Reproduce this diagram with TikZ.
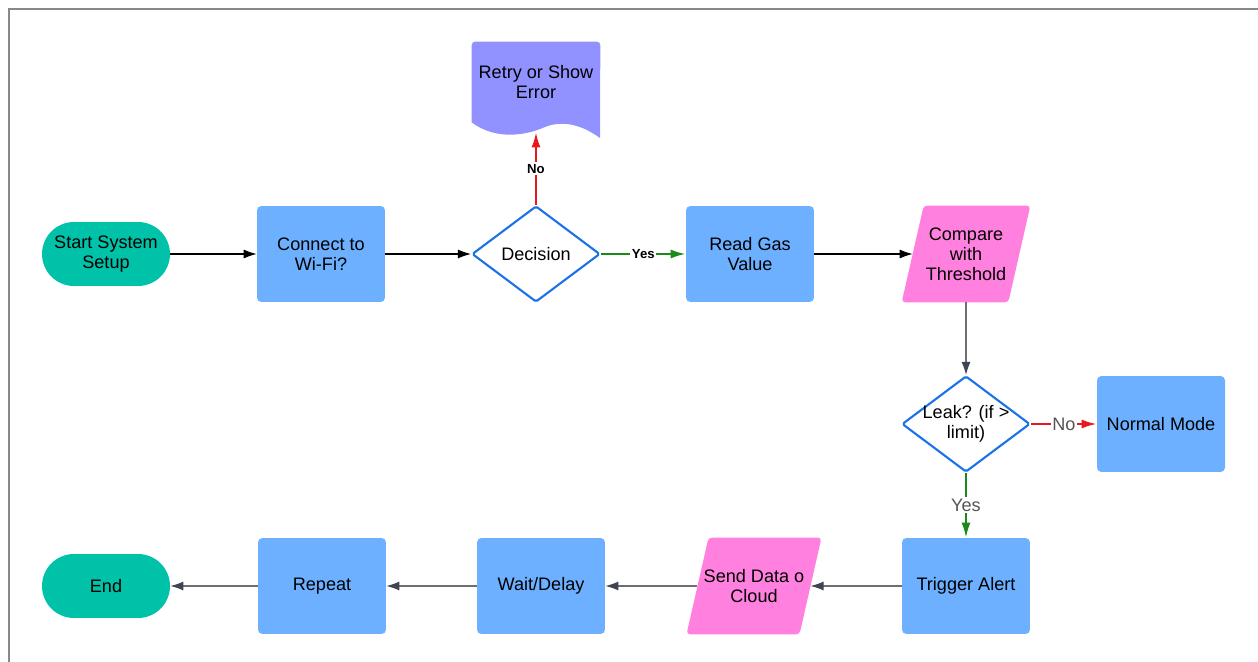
\documentclass[tikz,border=0pt]{standalone}
\usepackage{fontspec}
\setmainfont{Liberation Sans}
\usepackage{tikz}
\usetikzlibrary{shapes.geometric, arrows.meta, backgrounds}
\definecolor{boxblue}{HTML}{6CB0FF}
\definecolor{termteal}{HTML}{00C2A8}
\definecolor{iopink}{HTML}{FF80DF}
\definecolor{docpurple}{HTML}{9191FF}
\definecolor{decblue}{HTML}{1A73E8}
\definecolor{nored}{HTML}{E8191E}
\definecolor{yesgreen}{HTML}{1B8A1B}
\definecolor{linegray}{HTML}{6E6E6E}
\definecolor{tipgray}{HTML}{3D4452}
\definecolor{labelgray}{HTML}{555555}
\definecolor{framegray}{HTML}{888888}
\newcommand{\flowfont}{\fontsize{10.3}{11.4}\selectfont}
\tikzset{
  stepbox/.style={
    fill=boxblue, rounded corners=2.5pt, align=center,
    minimum width=2.56cm, minimum height=1.92cm, font=\flowfont
  },
  termbox/.style={
    fill=termteal, rounded corners=0.64cm, align=center,
    minimum width=2.56cm, minimum height=1.28cm, font=\flowfont
  },
  decbox/.style={
    diamond, draw=decblue, line width=1.2pt, fill=white, rounded corners=1pt,
    aspect=1.333, inner sep=-4pt, align=center,
    minimum width=2.56cm, minimum height=1.92cm, font=\flowfont
  },
  iobox/.style={align=center, minimum width=2.12cm, minimum height=1.92cm, font=\flowfont},
  docbox/.style={align=center, minimum width=2.56cm, minimum height=1.6cm, font=\flowfont},
  flowarrow/.style={-{Latex[length=2.6mm,width=1.8mm]}, line width=0.6pt, black},
  grayarrow/.style={-{Latex[length=2.6mm,width=1.8mm,color=tipgray]}, line width=0.7pt, linegray},
  yesarrow/.style={-{Latex[length=3mm,width=1.8mm]}, line width=1.2pt, yesgreen},
  noarrow/.style={-{Latex[length=3mm,width=1.8mm]}, line width=1.2pt, nored},
  smalllabel/.style={fill=white, text=black, inner sep=1pt, font=\bfseries\fontsize{7.5}{9}\selectfont},
  graylabel/.style={fill=white, text=labelgray, inner sep=1pt, font=\fontsize{10.3}{12}\selectfont},
}

\begin{document}
\begin{tikzpicture}[x=0.02cm, y=-0.02cm]
  \useasboundingbox (0,0) rectangle (1258,662);
  \draw[framegray, line width=1.2pt] (9,662) -- (9,9) -- (1258,9);

  % Top row
  \node[termbox] (start) at (106,254) {Start System\\Setup};
  \node[stepbox] (wifi) at (321,254) {Connect to\\Wi-Fi?};
  \node[decbox] (dec) at (536,254) {Decision};
  \node[docbox] (retry) at (536,82) {Retry or Show\\Error};
  \node[stepbox] (read) at (750,254) {Read Gas\\Value};
  \node[iobox] (cmp) at (966,254) {Compare\\with\\Threshold};

  % Middle row
  \node[decbox] (leak) at (966,424) {Leak? (if >\\limit)};
  \node[stepbox] (normal) at (1161,424) {Normal Mode};

  % Bottom row
  \node[stepbox] (alert) at (966,586) {Trigger Alert};
  \node[iobox] (send) at (754,586) {Send Data o\\Cloud};
  \node[stepbox] (wait) at (541,586) {Wait/Delay};
  \node[stepbox] (repeat) at (322,586) {Repeat};
  \node[termbox] (stop) at (106,586) {End};

  % Shapes behind the text
  \begin{pgfonlayer}{background}
    \fill[iopink, rounded corners=2pt] ([xshift=-0.22cm]cmp.south west) -- ([xshift=0.22cm]cmp.north west)
      -- ([xshift=0.22cm]cmp.north east) -- ([xshift=-0.22cm]cmp.south east) -- cycle;
    \fill[iopink, rounded corners=2pt] ([xshift=-0.22cm]send.south west) -- ([xshift=0.22cm]send.north west)
      -- ([xshift=0.22cm]send.north east) -- ([xshift=-0.22cm]send.south east) -- cycle;
    \fill[docpurple] (retry.south west) [rounded corners=2pt] -- (retry.north west) -- (retry.north east)
      [sharp corners] -- (600,138) .. controls (585,127) and (565,119) .. (545,127)
      .. controls (525,136) and (495,140) .. (retry.south west) -- cycle;
  \end{pgfonlayer}

  % Arrows
  \draw[flowarrow] (start) -- (wifi);
  \draw[flowarrow] (wifi) -- (dec);
  \draw[yesarrow] (dec) -- node[smalllabel] {Yes} (read);
  \draw[noarrow] (dec.north) -- node[smalllabel] {No} ([yshift=-0.2cm]retry.south);
  \draw[flowarrow] (read) -- (cmp);
  \draw[grayarrow] (cmp) -- (leak);
  \draw[noarrow] (leak) -- node[graylabel] {No} (normal);
  \draw[yesarrow] (leak) -- node[graylabel] {Yes} (alert);
  \draw[grayarrow] (alert) -- (send);
  \draw[grayarrow] (send) -- (wait);
  \draw[grayarrow] (wait) -- (repeat);
  \draw[grayarrow] (repeat) -- (stop);
\end{tikzpicture}
\end{document}
